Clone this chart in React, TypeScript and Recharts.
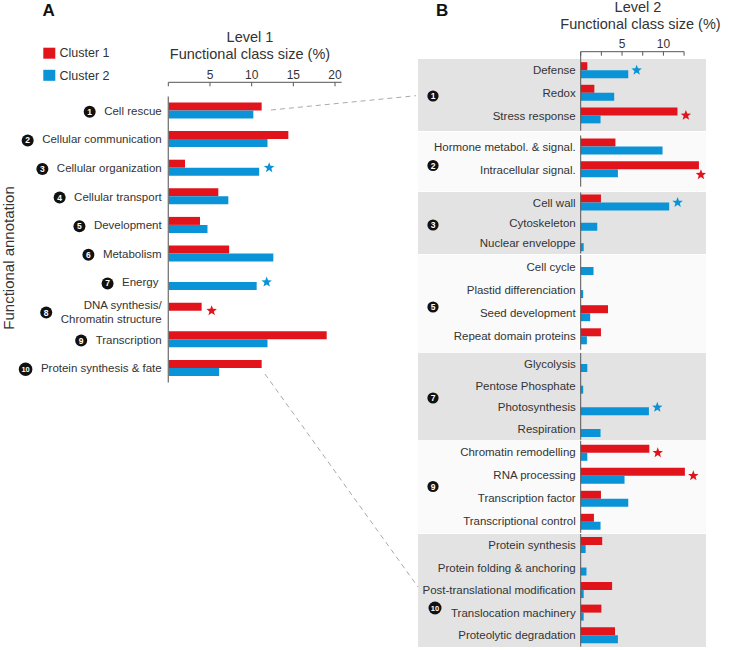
import { BarChart, Bar, XAxis, YAxis, LabelList } from "recharts";

const RED = "#e1141c";
const BLUE = "#0a93d6";
const INK = "#333";
const FONT = "'Liberation Sans', Arial, sans-serif";

// Level 1 (panel A)
const level1Classes = [
  "Cell rescue",
  "Cellular communication",
  "Cellular organization",
  "Cellular transport",
  "Development",
  "Metabolism",
  "Energy ",
  "DNA synthesis/\nChromatin structure",
  "Transcription",
  "Protein synthesis & fate",
];
const level1Numbers = [1, 2, 3, 4, 5, 6, 7, 8, 9, 10];
const level1Cluster1 = [11.2, 14.4, 2.0, 6.0, 3.8, 7.3, 0, 4.0, 19.0, 11.2];
const level1Cluster2 = [10.2, 11.9, 10.9, 7.2, 4.7, 12.6, 10.6, 0, 11.9, 6.1];
const level1Stars = ["", "", "c2", "", "", "", "c2", "c1", "", ""];
const level1Ticks = [0, 5, 10, 15, 20];
const level1TickLabels = [5, 10, 15, 20];

// Level 2 (panel B)
const level2Classes = [
  "Defense",
  "Redox",
  "Stress response",
  "Hormone metabol. & signal.",
  "Intracellular signal.",
  "Cell wall",
  "Cytoskeleton",
  "Nuclear enveloppe",
  "Cell cycle",
  "Plastid differenciation",
  "Seed development",
  "Repeat domain proteins",
  "Glycolysis",
  "Pentose Phosphate",
  "Photosynthesis",
  "Respiration",
  "Chromatin remodelling",
  "RNA processing",
  "Transcription factor",
  "Transcriptional control",
  "Protein synthesis",
  "Protein folding & anchoring",
  "Post-translational modification",
  "Translocation machinery",
  "Proteolytic degradation",
];
const level2Group = [1, 1, 1, 2, 2, 3, 3, 3, 5, 5, 5, 5, 7, 7, 7, 7, 9, 9, 9, 9, 10, 10, 10, 10, 10];
const level2Cluster1 = [
  0.8, 1.65, 11.7, 4.2, 14.3, 2.45, 0, 0, 0, 0, 3.3, 2.45, 0, 0, 0, 0, 8.3, 12.6, 2.45, 1.6, 2.6, 0, 3.8,
  2.5, 4.15,
];
const level2Cluster2 = [
  5.75, 4.05, 2.4, 9.9, 4.5, 10.7, 2.0, 0.36, 1.55, 0.3, 1.15, 0.75, 0.8, 0.3, 8.25, 2.4, 0.8, 5.3, 5.75,
  2.4, 0.6, 0.7, 0.36, 0.36, 4.5,
];
const level2Stars = [
  "c2", "", "c1", "", "c1", "c2", "", "", "", "", "", "", "", "", "c2", "", "c1", "c1", "", "", "", "", "",
  "", "",
];
const level2Ticks = [0, 2.5, 5, 7.5, 10, 12.5];
const level2TickLabels = [5, 10];

const level1Data = level1Classes.map((name, i) => ({
  name,
  num: level1Numbers[i],
  c1: level1Cluster1[i],
  c2: level1Cluster2[i],
  star: level1Stars[i],
}));

const level2Data = level2Classes.map((name, i) => ({
  name,
  group: level2Group[i],
  c1: level2Cluster1[i],
  c2: level2Cluster2[i],
  star: level2Stars[i],
}));

// layout of the level 2 group panels
const groupLayout = [
  { cls: 1, boxTop: 59.3, boxH: 71.4, shade: true, chartTop: 30, chartH: 100.7, mt: 0, mb: 0, pt: 7.5, pb: 3.7, badgeY: 96, axis: true },
  { cls: 2, boxTop: 132, boxH: 58.7, shade: false, chartTop: 132, chartH: 58.7, mt: 3.5, mb: 4, pt: 0, pb: 5.8, badgeY: 165.5 },
  { cls: 3, boxTop: 192, boxH: 62, shade: true, chartTop: 192, chartH: 62, mt: 0.5, mb: 0.5, pt: 0, pb: 0, badgeY: 225 },
  { cls: 5, boxTop: 254.5, boxH: 98.2, shade: false, chartTop: 254.5, chartH: 98.2, mt: 0, mb: 3.4, pt: 0, pb: 2.4, badgeY: 307 },
  { cls: 7, boxTop: 353.3, boxH: 86.7, shade: true, chartTop: 353.3, chartH: 86.7, mt: 0, mb: 0, pt: 0, pb: 0, badgeY: 398 },
  { cls: 9, boxTop: 440, boxH: 93.3, shade: false, chartTop: 440, chartH: 93.3, mt: 0.8, mb: 0.5, pt: 0, pb: 0, badgeY: 486.5 },
  { cls: 10, boxTop: 534, boxH: 112.7, shade: true, chartTop: 534, chartH: 112.7, mt: 0, mb: 0, pt: 0, pb: 0, badgeY: 608 },
];

let measureCtx: CanvasRenderingContext2D | null = null;
const textWidth = (s: string, size: number) => {
  if (!measureCtx) measureCtx = document.createElement("canvas").getContext("2d");
  if (!measureCtx) return s.length * size * 0.5;
  measureCtx.font = `${size}px "Liberation Sans"`;
  return measureCtx.measureText(s).width;
};

const starPath = (cx: number, cy: number, R: number) => {
  const r = R * 0.42;
  let d = "";
  for (let i = 0; i < 10; i++) {
    const rad = i % 2 === 0 ? R : r;
    const a = -Math.PI / 2 + (i * Math.PI) / 5;
    d += `${i === 0 ? "M" : "L"}${(cx + rad * Math.cos(a)).toFixed(2)},${(cy + rad * Math.sin(a)).toFixed(2)}`;
  }
  return d + "Z";
};

const starLabel = (series: string, color: string, gap: number, maxX: number) => (props: any) => {
  if (props.value !== series) return null;
  const vb = props.viewBox ?? props;
  const { x, y, width, height } = vb;
  let sx = x + width + gap;
  let sy = series === "c1" ? y + height : y;
  if (sx > maxX) {
    sx = x + width + 2;
    sy += 5.5;
  }
  return <path d={starPath(sx, sy, 5.5)} fill={color} />;
};

const Badge = ({ cx, cy, n, r }: { cx: number; cy: number; n: number; r: number }) => (
  <g>
    <circle cx={cx} cy={cy} r={r} fill="#111" />
    <text
      x={cx}
      y={cy}
      textAnchor="middle"
      dominantBaseline="central"
      fill="#fff"
      fontSize={n > 9 ? 7.5 : 8.5}
      fontWeight="bold"
      fontFamily={FONT}
    >
      {n}
    </text>
  </g>
);

const TopTick = (labels: number[]) => (props: any) => {
  const { x, y, payload } = props;
  return (
    <g>
      <line x1={x} x2={x} y1={y} y2={y + 4} stroke="#555" />
      {labels.includes(payload.value) && (
        <text x={x} y={y - 3.3} textAnchor="middle" fontSize={12} fill={INK} fontFamily={FONT}>
          {payload.value}
        </text>
      )}
    </g>
  );
};

const Level1Tick = (props: any) => {
  const { x, y, payload } = props;
  const row = level1Data.find((d) => d.name === payload.value);
  const lines = String(payload.value).split("\n");
  const w = Math.max(...lines.map((l) => textWidth(l, 11.5)));
  const n = row ? row.num : 0;
  const r = n > 9 ? 6.8 : 6;
  const bx = x - w - 8.5 - r;
  if (lines.length > 1) {
    return (
      <g>
        <Badge cx={bx} cy={y + 1.5} n={n} r={r} />
        {lines.map((l, i) => (
          <text
            key={l}
            x={x}
            y={y - 6.5 + i * 14}
            textAnchor="end"
            dominantBaseline="central"
            fontSize={11.5}
            fill={INK}
            fontFamily={FONT}
          >
            {l}
          </text>
        ))}
      </g>
    );
  }
  return (
    <g>
      <Badge cx={bx} cy={y + 1} n={n} r={r} />
      <text
        x={x}
        y={y}
        textAnchor="end"
        dominantBaseline="central"
        fontSize={11.5}
        fill={INK}
        fontFamily={FONT}
        style={{ whiteSpace: "pre" }}
      >
        {payload.value}
      </text>
    </g>
  );
};

const Level2Tick = (props: any) => {
  const { x, y, payload } = props;
  return (
    <text x={x} y={y} textAnchor="end" dominantBaseline="central" fontSize={11.5} fill={INK} fontFamily={FONT}>
      {payload.value}
    </text>
  );
};

const abs = (left: number, top: number) => ({ position: "absolute" as const, left, top });

const App = () => {
  return (
    <div style={{ position: "absolute", left: 0, top: 0, width: 729, height: 650, background: "#fff", fontFamily: FONT }}>
      {/* level 2 group backgrounds */}
      {groupLayout.map((g) => (
        <div
          key={`bg${g.cls}`}
          style={{ ...abs(418, g.boxTop), width: 288, height: g.boxH, background: g.shade ? "#e3e3e3" : "#fafafa" }}
        />
      ))}

      {/* panel A axis */}
      <div style={abs(0, 50)}>
        <BarChart width={360} height={40} data={level1Data} layout="vertical" margin={{ top: 0, right: 18.3, bottom: 0, left: 168.3 }}>
          <XAxis
            type="number"
            orientation="top"
            height={32.3}
            domain={[0, 20.8]}
            allowDataOverflow
            ticks={level1Ticks}
            interval={0}
            tickSize={0}
            tickMargin={0}
            tickLine={false}
            axisLine={{ stroke: "#555" }}
            tick={TopTick(level1TickLabels)}
          />
          <YAxis type="category" dataKey="name" hide />
          <Bar dataKey="c1" fill="none" isAnimationActive={false} legendType="none" />
        </BarChart>
      </div>

      {/* panel A bars */}
      <div style={abs(0, 90)}>
        <BarChart
          width={360}
          height={300}
          data={level1Data}
          layout="vertical"
          barGap={0}
          margin={{ top: 6.5, right: 18.3, bottom: 7.5, left: 0 }}
        >
          <XAxis type="number" domain={[0, 20.8]} hide />
          <YAxis
            type="category"
            dataKey="name"
            width={168.3}
            interval={0}
            tickSize={0}
            tickMargin={6.6}
            tickLine={false}
            axisLine={{ stroke: "#777", strokeWidth: 1.3 }}
            tick={Level1Tick}
          />
          <Bar dataKey="c1" fill={RED} barSize={8} isAnimationActive={false}>
            <LabelList dataKey="star" content={starLabel("c1", RED, 10, 1000)} />
          </Bar>
          <Bar dataKey="c2" fill={BLUE} barSize={8} isAnimationActive={false}>
            <LabelList dataKey="star" content={starLabel("c2", BLUE, 10, 1000)} />
          </Bar>
        </BarChart>
      </div>

      {/* panel B groups */}
      {groupLayout.map((g) => (
        <div key={`chart${g.cls}`} style={abs(418, g.chartTop)}>
          <BarChart
            width={288}
            height={g.chartH}
            data={level2Data.filter((d) => d.group === g.cls)}
            layout="vertical"
            barGap={0}
            margin={{ top: g.mt, right: g.axis ? 21.9 : 1.25, bottom: g.mb, left: 0 }}
          >
            {g.axis ? (
              <XAxis
                type="number"
                orientation="top"
                height={21.7}
                domain={[0, 12.5]}
                ticks={level2Ticks}
                interval={0}
                tickSize={0}
                tickMargin={0}
                tickLine={false}
                axisLine={{ stroke: "#555" }}
                tick={TopTick(level2TickLabels)}
              />
            ) : (
              <XAxis type="number" domain={[0, 15]} hide />
            )}
            <YAxis
              type="category"
              dataKey="name"
              width={162.7}
              interval={0}
              tickSize={0}
              tickMargin={5}
              tickLine={false}
              padding={{ top: g.pt, bottom: g.pb }}
              axisLine={{ stroke: "#555" }}
              tick={Level2Tick}
            />
            <Bar dataKey="c1" fill={RED} barSize={8} isAnimationActive={false}>
              <LabelList dataKey="star" content={starLabel("c1", RED, 8.4, 284)} />
            </Bar>
            <Bar dataKey="c2" fill={BLUE} barSize={8} isAnimationActive={false}>
              <LabelList dataKey="star" content={starLabel("c2", BLUE, 8.4, 284)} />
            </Bar>
          </BarChart>
        </div>
      ))}

      {/* annotations */}
      <svg width={729} height={650} style={{ ...abs(0, 0), pointerEvents: "none", overflow: "visible" }}>
        <text x={42.5} y={16} fontSize={17} fontWeight="bold" fill="#111" fontFamily={FONT}>
          A
        </text>
        <text x={436} y={16} fontSize={17} fontWeight="bold" fill="#111" fontFamily={FONT}>
          B
        </text>

        <rect x={43.3} y={47.7} width={12} height={11} fill={RED} />
        <text x={59.5} y={53.3} dominantBaseline="central" fontSize={12.5} fill={INK} fontFamily={FONT}>
          Cluster 1
        </text>
        <rect x={43.3} y={69.8} width={12} height={11} fill={BLUE} />
        <text x={59.5} y={76} dominantBaseline="central" fontSize={12.5} fill={INK} fontFamily={FONT}>
          Cluster 2
        </text>

        <text x={250} y={36.5} textAnchor="middle" dominantBaseline="central" fontSize={14.5} fill={INK} fontFamily={FONT}>
          Level 1
        </text>
        <text x={250} y={53.5} textAnchor="middle" dominantBaseline="central" fontSize={14.5} fill={INK} fontFamily={FONT}>
          Functional class size (%)
        </text>
        <text x={638} y={7} textAnchor="middle" dominantBaseline="central" fontSize={14.5} fill={INK} fontFamily={FONT}>
          Level 2
        </text>
        <text x={640.5} y={24} textAnchor="middle" dominantBaseline="central" fontSize={14.5} fill={INK} fontFamily={FONT}>
          Functional class size (%)
        </text>

        <text
          x={8.5}
          y={258}
          transform="rotate(-90 8.5 258)"
          textAnchor="middle"
          dominantBaseline="central"
          fontSize={15}
          fill={INK}
          fontFamily={FONT}
        >
          Functional annotation
        </text>

        <line x1={271} y1={110} x2={416} y2={95.7} stroke="#aaa" strokeDasharray="5 4" />
        <line x1={265} y1={374} x2={418} y2={587} stroke="#aaa" strokeDasharray="5 4" />

        {groupLayout.map((g) => (
          <Badge key={`badge${g.cls}`} cx={g.cls > 9 ? 435 : 433} cy={g.badgeY} n={g.cls} r={g.cls > 9 ? 6.5 : 5.6} />
        ))}
      </svg>
    </div>
  );
};

export default App;
